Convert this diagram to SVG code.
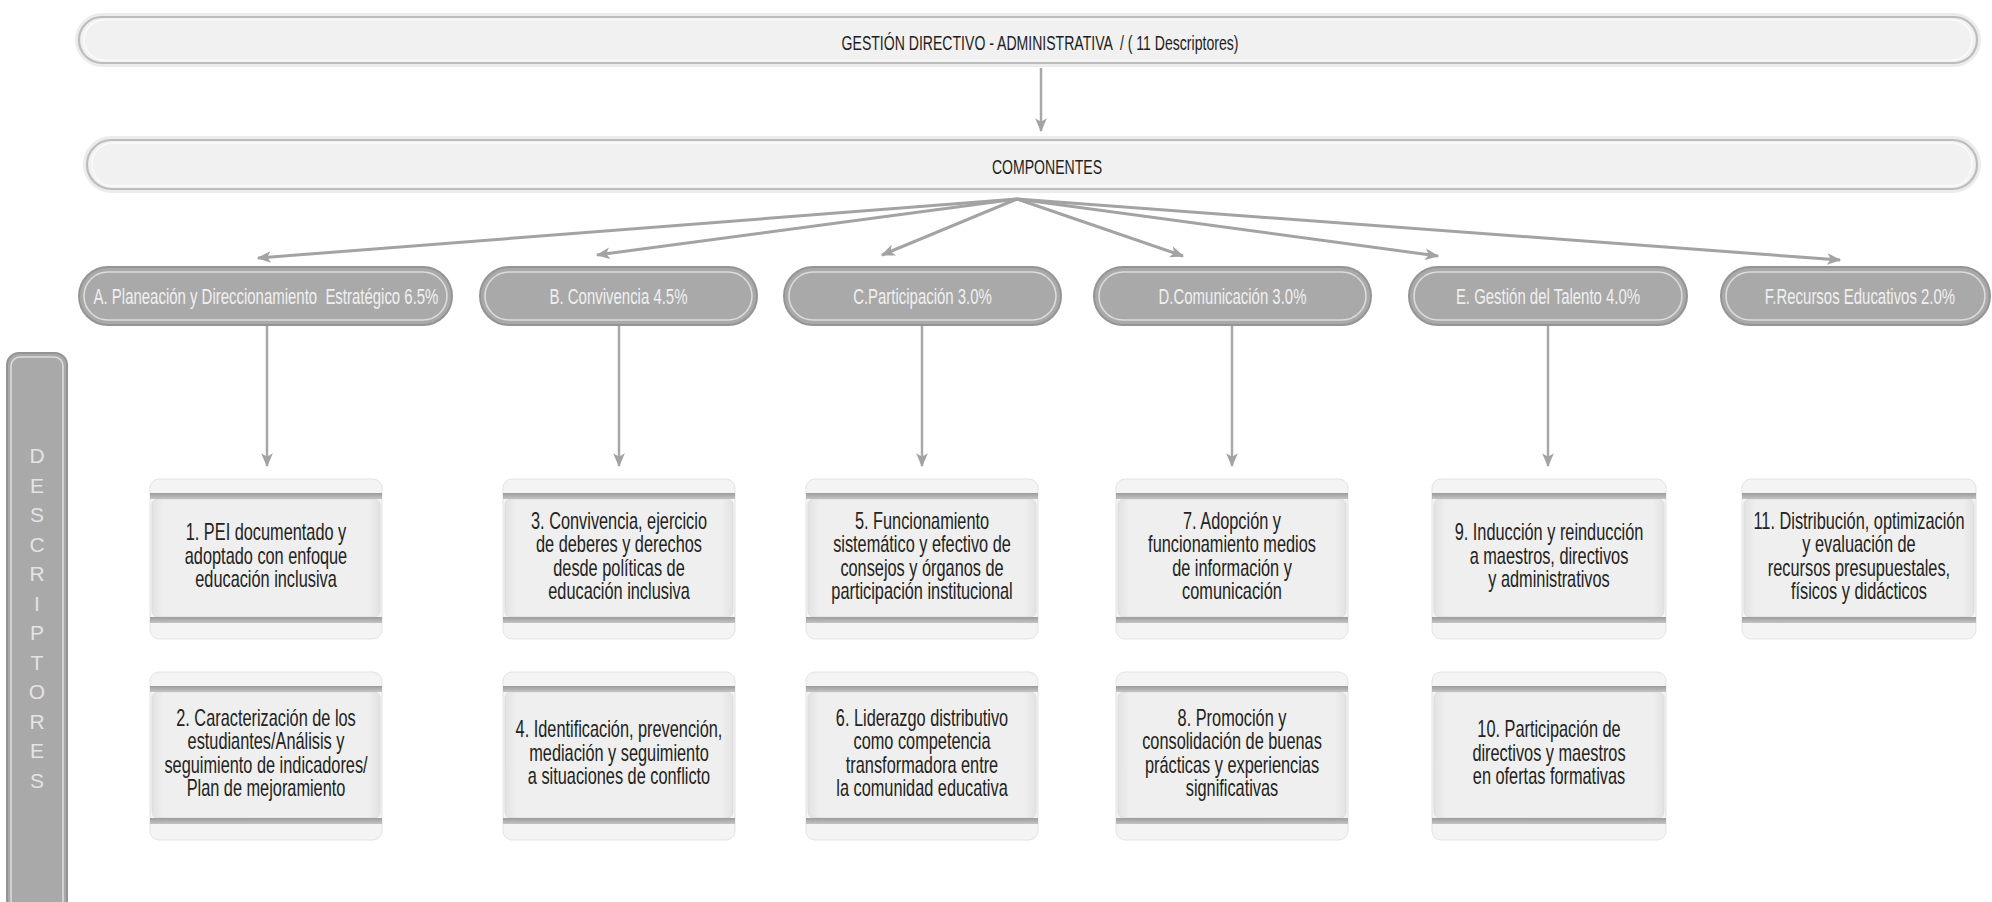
<svg xmlns="http://www.w3.org/2000/svg" width="1992" height="902" viewBox="0 0 1992 902">
<defs>
<style>
.glow{fill:none;stroke:#ececec;stroke-width:8}
.banner{fill:#f1f1f1;stroke:#bcbcbc;stroke-width:2.2}
.bline{fill:none;stroke:#fafafa;stroke-width:1.5}
.comp{fill:#a9a9a9;stroke:#949494;stroke-width:2}
.compin{fill:none;stroke:#dcdcdc;stroke-width:1.6}
.ttl{font-family:"Liberation Sans",Arial,sans-serif;font-size:21px;fill:#1e1e1e;text-anchor:middle;white-space:pre}
.ctext{font-family:"Liberation Sans",Arial,sans-serif;font-size:22px;fill:#f0f0f0;text-anchor:middle;white-space:pre}
.dtext{font-family:"Liberation Sans",Arial,sans-serif;font-size:24px;fill:#222222;text-anchor:middle}
.side{font-family:"Liberation Sans",Arial,sans-serif;font-size:21px;fill:#e4e4e4;text-anchor:middle}
.dbox{fill:#f4f4f4;stroke:#e3e3e3;stroke-width:1}
.dstripe{fill:url(#stripe)}
.dbody{fill:url(#body);stroke:#d9d9d9;stroke-width:0.8}
.conn{fill:none;stroke:#a3a3a3;stroke-width:3;marker-end:url(#ah)}
.vconn{fill:none;stroke:#a8a8a8;stroke-width:2.5;marker-end:url(#ah)}
</style>
<linearGradient id="stripe" x1="0" y1="0" x2="0" y2="1">
<stop offset="0" stop-color="#9c9c9c"/>
<stop offset="1" stop-color="#c4c4c4"/>
</linearGradient>
<linearGradient id="body" x1="0" y1="0" x2="1" y2="0">
<stop offset="0" stop-color="#e2e2e2"/>
<stop offset="0.05" stop-color="#efefef"/>
<stop offset="0.95" stop-color="#efefef"/>
<stop offset="1" stop-color="#e2e2e2"/>
</linearGradient>
<marker id="ah" viewBox="0 0 12 10" refX="11" refY="5" markerWidth="14" markerHeight="12" markerUnits="userSpaceOnUse" orient="auto">
<path d="M0,0 L12,5 L0,10 L3,5 z" fill="#a3a3a3"/>
</marker>
</defs>
<rect width="1992" height="902" fill="#ffffff"/>

<g id="n-gestion">
<rect class="glow" x="79" y="17" width="1898" height="46" rx="23"/>
<rect class="banner" x="79" y="17" width="1898" height="46" rx="23"/>
<rect class="bline" x="84" y="20" width="1888" height="40" rx="20"/>
<text class="ttl" transform="translate(1040,50) scale(0.67,1)" x="0" y="0" xml:space="preserve">GESTIÓN DIRECTIVO - ADMINISTRATIVA  / ( 11 Descriptores)</text>
</g>

<g id="n-componentes">
<rect class="glow" x="87" y="140" width="1890" height="49" rx="24.5"/>
<rect class="banner" x="87" y="140" width="1890" height="49" rx="24.5"/>
<rect class="bline" x="92" y="143" width="1880" height="43" rx="21"/>
<text class="ttl" transform="translate(1047,174) scale(0.67,1)" x="0" y="0">COMPONENTES</text>
</g>

<g id="n-descriptores">
<rect class="comp" x="7" y="353" width="60" height="560" rx="12"/>
<rect class="compin" x="11" y="357" width="52" height="552" rx="9"/>
<text class="side" x="37" y="463">D</text>
<text class="side" x="37" y="492.5">E</text>
<text class="side" x="37" y="522">S</text>
<text class="side" x="37" y="551.5">C</text>
<text class="side" x="37" y="581">R</text>
<text class="side" x="37" y="610.5">I</text>
<text class="side" x="37" y="640">P</text>
<text class="side" x="37" y="669.5">T</text>
<text class="side" x="37" y="699">O</text>
<text class="side" x="37" y="728.5">R</text>
<text class="side" x="37" y="758">E</text>
<text class="side" x="37" y="787.5">S</text>
</g>

<g id="connectors">
<line class="vconn" x1="1041" y1="68" x2="1041" y2="131"/>
<line class="conn" x1="1017" y1="199" x2="258" y2="258"/>
<line class="conn" x1="1017" y1="199" x2="597" y2="255"/>
<line class="conn" x1="1017" y1="199" x2="882" y2="255"/>
<line class="conn" x1="1017" y1="199" x2="1183" y2="256"/>
<line class="conn" x1="1017" y1="199" x2="1438" y2="256"/>
<line class="conn" x1="1017" y1="199" x2="1840" y2="260"/>
<line class="vconn" x1="267" y1="326" x2="267" y2="466"/>
<line class="vconn" x1="619" y1="326" x2="619" y2="466"/>
<line class="vconn" x1="922" y1="326" x2="922" y2="466"/>
<line class="vconn" x1="1232" y1="326" x2="1232" y2="466"/>
<line class="vconn" x1="1548" y1="326" x2="1548" y2="466"/>
</g>

<g id="n-A">
<rect class="comp" x="79" y="267" width="373" height="58" rx="29"/>
<rect class="compin" x="84" y="272" width="363" height="48" rx="24"/>
<text class="ctext" transform="translate(266,304) scale(0.68,1)" x="0" y="0" xml:space="preserve">A. Planeación y Direccionamiento  Estratégico 6.5%</text>
</g>
<g id="n-B">
<rect class="comp" x="480" y="267" width="277" height="58" rx="29"/>
<rect class="compin" x="485" y="272" width="267" height="48" rx="24"/>
<text class="ctext" transform="translate(618.5,304) scale(0.68,1)" x="0" y="0">B. Convivencia 4.5%</text>
</g>
<g id="n-C">
<rect class="comp" x="784" y="267" width="277" height="58" rx="29"/>
<rect class="compin" x="789" y="272" width="267" height="48" rx="24"/>
<text class="ctext" transform="translate(922.5,304) scale(0.68,1)" x="0" y="0">C.Participación 3.0%</text>
</g>
<g id="n-D">
<rect class="comp" x="1094" y="267" width="277" height="58" rx="29"/>
<rect class="compin" x="1099" y="272" width="267" height="48" rx="24"/>
<text class="ctext" transform="translate(1232.5,304) scale(0.68,1)" x="0" y="0">D.Comunicación 3.0%</text>
</g>
<g id="n-E">
<rect class="comp" x="1409" y="267" width="278" height="58" rx="29"/>
<rect class="compin" x="1414" y="272" width="268" height="48" rx="24"/>
<text class="ctext" transform="translate(1548,304) scale(0.68,1)" x="0" y="0">E. Gestión del Talento 4.0%</text>
</g>
<g id="n-F">
<rect class="comp" x="1721" y="267" width="269" height="58" rx="29"/>
<rect class="compin" x="1726" y="272" width="259" height="48" rx="24"/>
<text class="ctext" transform="translate(1860,304) scale(0.68,1)" x="0" y="0">F.Recursos Educativos 2.0%</text>
</g>

<g id="d1">
<rect class="dbox" x="150" y="479" width="232" height="160" rx="9"/>
<rect class="dbody" x="152" y="499" width="228" height="118" rx="6"/>
<rect class="dstripe" x="150" y="493" width="232" height="6"/>
<rect class="dstripe" x="150" y="617" width="232" height="6"/>
<g transform="translate(266,0) scale(0.68,1)"><text class="dtext"><tspan x="0" y="540.5">1. PEI documentado y</tspan><tspan x="0" y="564">adoptado con enfoque</tspan><tspan x="0" y="587.5">educación inclusiva</tspan></text></g>
</g>
<g id="d2">
<rect class="dbox" x="150" y="672" width="232" height="168" rx="9"/>
<rect class="dbody" x="152" y="692" width="228" height="126" rx="6"/>
<rect class="dstripe" x="150" y="686" width="232" height="6"/>
<rect class="dstripe" x="150" y="818" width="232" height="6"/>
<g transform="translate(266,0) scale(0.68,1)"><text class="dtext"><tspan x="0" y="725.75">2. Caracterización de los</tspan><tspan x="0" y="749.25">estudiantes/Análisis y</tspan><tspan x="0" y="772.75">seguimiento de indicadores/</tspan><tspan x="0" y="796.25">Plan de mejoramiento</tspan></text></g>
</g>
<g id="d3">
<rect class="dbox" x="503" y="479" width="232" height="160" rx="9"/>
<rect class="dbody" x="505" y="499" width="228" height="118" rx="6"/>
<rect class="dstripe" x="503" y="493" width="232" height="6"/>
<rect class="dstripe" x="503" y="617" width="232" height="6"/>
<g transform="translate(619,0) scale(0.68,1)"><text class="dtext"><tspan x="0" y="528.75">3. Convivencia, ejercicio</tspan><tspan x="0" y="552.25">de deberes y derechos</tspan><tspan x="0" y="575.75">desde políticas de</tspan><tspan x="0" y="599.25">educación inclusiva</tspan></text></g>
</g>
<g id="d4">
<rect class="dbox" x="503" y="672" width="232" height="168" rx="9"/>
<rect class="dbody" x="505" y="692" width="228" height="126" rx="6"/>
<rect class="dstripe" x="503" y="686" width="232" height="6"/>
<rect class="dstripe" x="503" y="818" width="232" height="6"/>
<g transform="translate(619,0) scale(0.68,1)"><text class="dtext"><tspan x="0" y="737.5">4. Identificación, prevención,</tspan><tspan x="0" y="761">mediación y seguimiento</tspan><tspan x="0" y="784.5">a situaciones de conflicto</tspan></text></g>
</g>
<g id="d5">
<rect class="dbox" x="806" y="479" width="232" height="160" rx="9"/>
<rect class="dbody" x="808" y="499" width="228" height="118" rx="6"/>
<rect class="dstripe" x="806" y="493" width="232" height="6"/>
<rect class="dstripe" x="806" y="617" width="232" height="6"/>
<g transform="translate(922,0) scale(0.68,1)"><text class="dtext"><tspan x="0" y="528.75">5. Funcionamiento</tspan><tspan x="0" y="552.25">sistemático y efectivo de</tspan><tspan x="0" y="575.75">consejos y órganos de</tspan><tspan x="0" y="599.25">participación institucional</tspan></text></g>
</g>
<g id="d6">
<rect class="dbox" x="806" y="672" width="232" height="168" rx="9"/>
<rect class="dbody" x="808" y="692" width="228" height="126" rx="6"/>
<rect class="dstripe" x="806" y="686" width="232" height="6"/>
<rect class="dstripe" x="806" y="818" width="232" height="6"/>
<g transform="translate(922,0) scale(0.68,1)"><text class="dtext"><tspan x="0" y="725.75">6. Liderazgo distributivo</tspan><tspan x="0" y="749.25">como competencia</tspan><tspan x="0" y="772.75">transformadora entre</tspan><tspan x="0" y="796.25">la comunidad educativa</tspan></text></g>
</g>
<g id="d7">
<rect class="dbox" x="1116" y="479" width="232" height="160" rx="9"/>
<rect class="dbody" x="1118" y="499" width="228" height="118" rx="6"/>
<rect class="dstripe" x="1116" y="493" width="232" height="6"/>
<rect class="dstripe" x="1116" y="617" width="232" height="6"/>
<g transform="translate(1232,0) scale(0.68,1)"><text class="dtext"><tspan x="0" y="528.75">7. Adopción y</tspan><tspan x="0" y="552.25">funcionamiento medios</tspan><tspan x="0" y="575.75">de información y</tspan><tspan x="0" y="599.25">comunicación</tspan></text></g>
</g>
<g id="d8">
<rect class="dbox" x="1116" y="672" width="232" height="168" rx="9"/>
<rect class="dbody" x="1118" y="692" width="228" height="126" rx="6"/>
<rect class="dstripe" x="1116" y="686" width="232" height="6"/>
<rect class="dstripe" x="1116" y="818" width="232" height="6"/>
<g transform="translate(1232,0) scale(0.68,1)"><text class="dtext"><tspan x="0" y="725.75">8. Promoción y</tspan><tspan x="0" y="749.25">consolidación de buenas</tspan><tspan x="0" y="772.75">prácticas y experiencias</tspan><tspan x="0" y="796.25">significativas</tspan></text></g>
</g>
<g id="d9">
<rect class="dbox" x="1432" y="479" width="234" height="160" rx="9"/>
<rect class="dbody" x="1434" y="499" width="230" height="118" rx="6"/>
<rect class="dstripe" x="1432" y="493" width="234" height="6"/>
<rect class="dstripe" x="1432" y="617" width="234" height="6"/>
<g transform="translate(1549,0) scale(0.68,1)"><text class="dtext"><tspan x="0" y="540.5">9. Inducción y reinducción</tspan><tspan x="0" y="564">a maestros, directivos</tspan><tspan x="0" y="587.5">y administrativos</tspan></text></g>
</g>
<g id="d10">
<rect class="dbox" x="1432" y="672" width="234" height="168" rx="9"/>
<rect class="dbody" x="1434" y="692" width="230" height="126" rx="6"/>
<rect class="dstripe" x="1432" y="686" width="234" height="6"/>
<rect class="dstripe" x="1432" y="818" width="234" height="6"/>
<g transform="translate(1549,0) scale(0.68,1)"><text class="dtext"><tspan x="0" y="737.5">10. Participación de</tspan><tspan x="0" y="761">directivos y maestros</tspan><tspan x="0" y="784.5">en ofertas formativas</tspan></text></g>
</g>
<g id="d11">
<rect class="dbox" x="1742" y="479" width="234" height="160" rx="9"/>
<rect class="dbody" x="1744" y="499" width="230" height="118" rx="6"/>
<rect class="dstripe" x="1742" y="493" width="234" height="6"/>
<rect class="dstripe" x="1742" y="617" width="234" height="6"/>
<g transform="translate(1859,0) scale(0.68,1)"><text class="dtext"><tspan x="0" y="528.75">11. Distribución, optimización</tspan><tspan x="0" y="552.25">y evaluación de</tspan><tspan x="0" y="575.75">recursos presupuestales,</tspan><tspan x="0" y="599.25">físicos y didácticos</tspan></text></g>
</g>
</svg>
